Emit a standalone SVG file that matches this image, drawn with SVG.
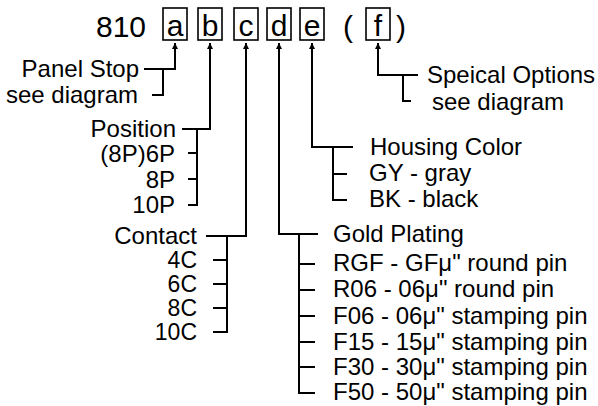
<svg xmlns="http://www.w3.org/2000/svg" width="598" height="406" viewBox="0 0 598 406">
<style>
  text { font-family: "Liberation Sans", Arial, sans-serif; fill: #000; }
  .big { font-size: 30px; }
  .lbl { font-size: 24px; }
  .sm { font-size: 23px; }
  .end { text-anchor: end; }
  .mid { text-anchor: middle; }
  .box { fill: none; stroke: #000; stroke-width: 1.6; }
  .ln { fill: none; stroke: #000; stroke-width: 2; }
  .arr { fill: none; stroke: #000; stroke-width: 2; marker-start: url(#ah); }
</style>
<defs>
  <marker id="ah" viewBox="0 0 10 10" refX="10" refY="5" markerUnits="userSpaceOnUse" markerWidth="9" markerHeight="6" orient="auto-start-reverse">
    <path d="M0,0 L10,5 L0,10 z" fill="#000"/>
  </marker>
</defs>
<rect width="598" height="406" fill="#fff"/>

<g id="code">
  <text class="big" x="96" y="37">810</text>
  <text class="big mid" x="348" y="37">(</text>
  <text class="big mid" x="401" y="37">)</text>
</g>
<g id="box-a"><rect class="box" x="163" y="8" width="24" height="32"/><text class="big mid" x="175" y="36">a</text></g>
<g id="box-b"><rect class="box" x="198" y="8" width="24" height="32"/><text class="big mid" x="210" y="36">b</text></g>
<g id="box-c"><rect class="box" x="234" y="8" width="24" height="32"/><text class="big mid" x="246" y="36">c</text></g>
<g id="box-d"><rect class="box" x="267" y="8" width="24" height="32"/><text class="big mid" x="279" y="36">d</text></g>
<g id="box-e"><rect class="box" x="300" y="8" width="24" height="32"/><text class="big mid" x="312" y="36">e</text></g>
<g id="box-f"><rect class="box" x="366" y="8" width="24" height="32"/><text class="big mid" x="378" y="36">f</text></g>

<g id="panel-stop">
  <text class="lbl end" x="139" y="77">Panel Stop</text>
  <text class="lbl end" x="138" y="103">see diagram</text>
</g>
<g id="position">
  <text class="lbl end" x="176" y="137">Position</text>
  <text class="lbl end" x="175" y="162">(8P)6P</text>
  <text class="lbl end" x="175" y="188">8P</text>
  <text class="lbl end" x="175" y="213">10P</text>
</g>
<g id="contact">
  <text class="lbl end" x="197" y="244">Contact</text>
  <text class="sm end" x="197" y="268">4C</text>
  <text class="sm end" x="197" y="292">6C</text>
  <text class="sm end" x="197" y="316">8C</text>
  <text class="sm end" x="197" y="340">10C</text>
</g>
<g id="gold-plating">
  <text class="lbl" x="333" y="242">Gold Plating</text>
  <text class="lbl" x="333" y="271">RGF - GFμ" round pin</text>
  <text class="lbl" x="333" y="297">R06 - 06μ" round pin</text>
  <text class="lbl" x="333" y="324">F06 - 06μ" stamping pin</text>
  <text class="lbl" x="333" y="350">F15 - 15μ" stamping pin</text>
  <text class="lbl" x="333" y="375">F30 - 30μ" stamping pin</text>
  <text class="lbl" x="333" y="400">F50 - 50μ" stamping pin</text>
</g>
<g id="housing-color">
  <text class="lbl" x="370" y="155">Housing Color</text>
  <text class="lbl" x="369" y="181">GY - gray</text>
  <text class="lbl" x="369" y="207">BK - black</text>
</g>
<g id="special-options">
  <text class="lbl" x="427" y="83">Speical Options</text>
  <text class="lbl" x="432" y="110">see diagram</text>
</g>

<g id="connectors">
  <path class="arr" d="M175,43 V69 H144"/>
  <path class="ln" d="M163,69 V95 H152"/>
  <path class="arr" d="M210,43 V129 H182"/>
  <path class="ln" d="M197,129 V205 H188 M188,153 H197 M188,179 H197"/>
  <path class="arr" d="M246,43 V236 H206"/>
  <path class="ln" d="M227,236 V332 H213 M213,260 H227 M213,284 H227 M213,308 H227"/>
  <path class="arr" d="M279,43 V234 H318"/>
  <path class="ln" d="M299,234 V393 H315 M299,264 H315 M299,290 H315 M299,316 H315 M299,342 H315 M299,367 H315"/>
  <path class="arr" d="M312,43 V147 H353"/>
  <path class="ln" d="M333,147 V200 H347 M333,174 H347"/>
  <path class="arr" d="M378,43 V75 H418"/>
  <path class="ln" d="M403,75 V101 H411"/>
</g>
</svg>
